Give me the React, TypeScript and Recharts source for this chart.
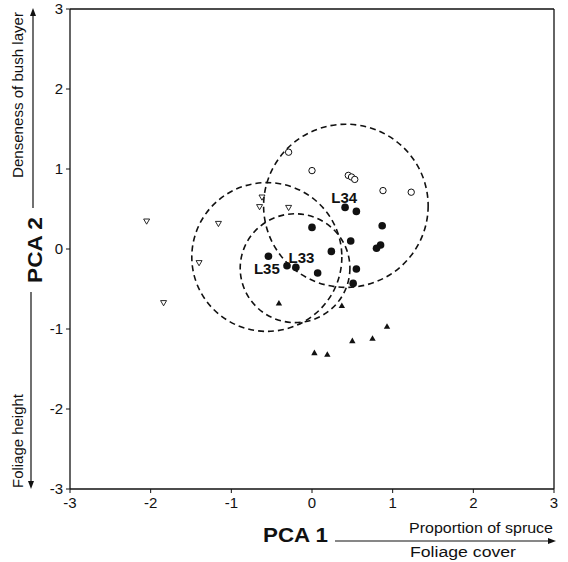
import React from "react";
import {
  ScatterChart,
  Scatter,
  XAxis,
  YAxis,
  ReferenceArea,
  ReferenceLine,
} from "recharts";

const FONT = '"Liberation Sans", Arial, Helvetica, sans-serif';

const axisTicks = [-3, -2, -1, 0, 1, 2, 3];

// open triangles (pointing down)
const openTriangles = [
  { x: -2.05, y: 0.35 },
  { x: -1.16, y: 0.32 },
  { x: -1.4, y: -0.17 },
  { x: -1.84, y: -0.67 },
  { x: -0.62, y: 0.65 },
  { x: -0.65, y: 0.53 },
  { x: -0.29, y: 0.52 },
];

// open circles
const openCircles = [
  { x: -0.29, y: 1.21 },
  { x: 0.0, y: 0.98 },
  { x: 0.45, y: 0.92 },
  { x: 0.49, y: 0.9 },
  { x: 0.53, y: 0.87 },
  { x: 0.88, y: 0.73 },
  { x: 1.23, y: 0.71 },
];

// filled circles
const filledCircles = [
  { x: -0.54, y: -0.09 },
  { x: -0.31, y: -0.21 },
  { x: -0.2, y: -0.23 },
  { x: 0.0, y: 0.27 },
  { x: 0.07, y: -0.3 },
  { x: 0.41, y: 0.52 },
  { x: 0.55, y: 0.47 },
  { x: 0.87, y: 0.29 },
  { x: 0.48, y: 0.1 },
  { x: 0.24, y: -0.03 },
  { x: 0.85, y: 0.05 },
  { x: 0.8, y: 0.01 },
  { x: 0.55, y: -0.25 },
  { x: 0.51, y: -0.43 },
];

// filled triangles (pointing up)
const filledTriangles = [
  { x: -0.41, y: -0.68 },
  { x: 0.37, y: -0.71 },
  { x: 0.93, y: -0.97 },
  { x: 0.75, y: -1.12 },
  { x: 0.5, y: -1.15 },
  { x: 0.03, y: -1.3 },
  { x: 0.19, y: -1.32 },
];

// dashed circles: centre and radius in PCA units
const circleCentres = [
  { name: "L35", cx: -0.56, cy: -0.1, r: 0.93 },
  { name: "L33", cx: -0.21, cy: -0.24, r: 0.68 },
  { name: "L34", cx: 0.42, cy: 0.54, r: 1.02 },
];

const circleLabels = [
  { x: 0.4, y: 0.64, name: "L34" },
  { x: -0.13, y: -0.1, name: "L33" },
  { x: -0.56, y: -0.24, name: "L35" },
];

function OpenCircle(props: any) {
  const { cx, cy } = props;
  return <circle cx={cx} cy={cy} r={3.2} fill="#fff" stroke="#111" strokeWidth={1} />;
}

function FilledCircle(props: any) {
  const { cx, cy } = props;
  return <circle cx={cx} cy={cy} r={3.8} fill="#111" />;
}

function UpTriangle(props: any) {
  const { cx, cy } = props;
  return (
    <polygon
      points={`${cx},${cy - 3.4} ${cx - 3.2},${cy + 2.2} ${cx + 3.2},${cy + 2.2}`}
      fill="#111"
    />
  );
}

function DownTriangle(props: any) {
  const { cx, cy } = props;
  return (
    <polygon
      points={`${cx - 3},${cy - 2} ${cx + 3},${cy - 2} ${cx},${cy + 3.2}`}
      fill="#fff"
      stroke="#111"
      strokeWidth={0.9}
    />
  );
}

function CircleLabel(props: any) {
  const { cx, cy, payload } = props;
  return (
    <text
      x={cx}
      y={cy}
      textAnchor="middle"
      dominantBaseline="central"
      fontFamily={FONT}
      fontWeight="bold"
      fontSize={15}
      fill="#111"
    >
      {payload.name}
    </text>
  );
}

function DashedCircle(props: any) {
  const { x, y, width, height } = props;
  return (
    <ellipse
      cx={x + width / 2}
      cy={y + height / 2}
      rx={width / 2}
      ry={height / 2}
      fill="none"
      stroke="#111"
      strokeWidth={1.6}
      strokeDasharray="6 4"
    />
  );
}

const tickStyle = { fontSize: 15, fill: "#111", fontFamily: FONT };

export default function App() {
  return (
    <div style={{ position: "absolute", left: 0, top: 0, width: 568, height: 562, background: "#fff" }}>
      <ScatterChart width={568} height={562} margin={{ top: 9, right: 14, bottom: 43, left: 0 }}>
        <XAxis
          type="number"
          dataKey="x"
          domain={[-3, 3]}
          ticks={axisTicks}
          allowDataOverflow
          axisLine={{ stroke: "#111", strokeWidth: 1.3 }}
          tickLine={{ stroke: "#111" }}
          tickSize={4}
          tickMargin={4}
          height={30}
          tick={tickStyle}
        />
        <YAxis
          type="number"
          dataKey="y"
          domain={[-3, 3]}
          ticks={axisTicks}
          allowDataOverflow
          axisLine={{ stroke: "#111", strokeWidth: 1.3 }}
          tickLine={{ stroke: "#111" }}
          tickSize={4}
          tickMargin={3}
          width={70}
          tick={tickStyle}
        />
        <ReferenceLine y={3} stroke="#111" strokeWidth={1.3} />
        <ReferenceLine x={3} stroke="#111" strokeWidth={1.3} />
        {circleCentres.map((c) => (
          <ReferenceArea
            key={c.name}
            x1={c.cx - c.r}
            x2={c.cx + c.r}
            y1={c.cy - c.r}
            y2={c.cy + c.r}
            shape={DashedCircle}
          />
        ))}
        <Scatter data={openTriangles} shape={DownTriangle} isAnimationActive={false} />
        <Scatter data={openCircles} shape={OpenCircle} isAnimationActive={false} />
        <Scatter data={filledCircles} shape={FilledCircle} isAnimationActive={false} />
        <Scatter data={filledTriangles} shape={UpTriangle} isAnimationActive={false} />
        <Scatter data={circleLabels} shape={CircleLabel} isAnimationActive={false} />
      </ScatterChart>

      <svg
        width={568}
        height={562}
        style={{ position: "absolute", left: 0, top: 0, pointerEvents: "none" }}
        fontFamily={FONT}
        fill="#111"
      >
        {/* y axis annotation */}
        <text transform="translate(23,95) rotate(-90)" textAnchor="middle" fontSize={14} textLength={166} lengthAdjust="spacingAndGlyphs">
          Denseness of bush layer
        </text>
        <line x1={33} y1={208} x2={33} y2={14} stroke="#111" strokeWidth={1.2} />
        <polygon points="33,8 30,16 36,16" />
        <text transform="translate(42,250) rotate(-90)" textAnchor="middle" fontSize={21} fontWeight="bold" textLength={66} lengthAdjust="spacingAndGlyphs">
          PCA 2
        </text>
        <line x1={31} y1={292} x2={31} y2={482} stroke="#111" strokeWidth={1.2} />
        <polygon points="31,489 28,481 34,481" />
        <text transform="translate(23,441) rotate(-90)" textAnchor="middle" fontSize={14} textLength={94} lengthAdjust="spacingAndGlyphs">
          Foliage height
        </text>

        {/* x axis annotation */}
        <text x={263} y={542} fontSize={21} fontWeight="bold" textLength={65} lengthAdjust="spacingAndGlyphs">
          PCA 1
        </text>
        <line x1={335} y1={541} x2={549} y2={541} stroke="#111" strokeWidth={1.2} />
        <polygon points="556,541 548,538 548,544" />
        <text x={409} y={533} fontSize={14} textLength={144} lengthAdjust="spacingAndGlyphs">
          Proportion of spruce
        </text>
        <text x={410} y={557} fontSize={14} textLength={106} lengthAdjust="spacingAndGlyphs">
          Foliage cover
        </text>
      </svg>
    </div>
  );
}
